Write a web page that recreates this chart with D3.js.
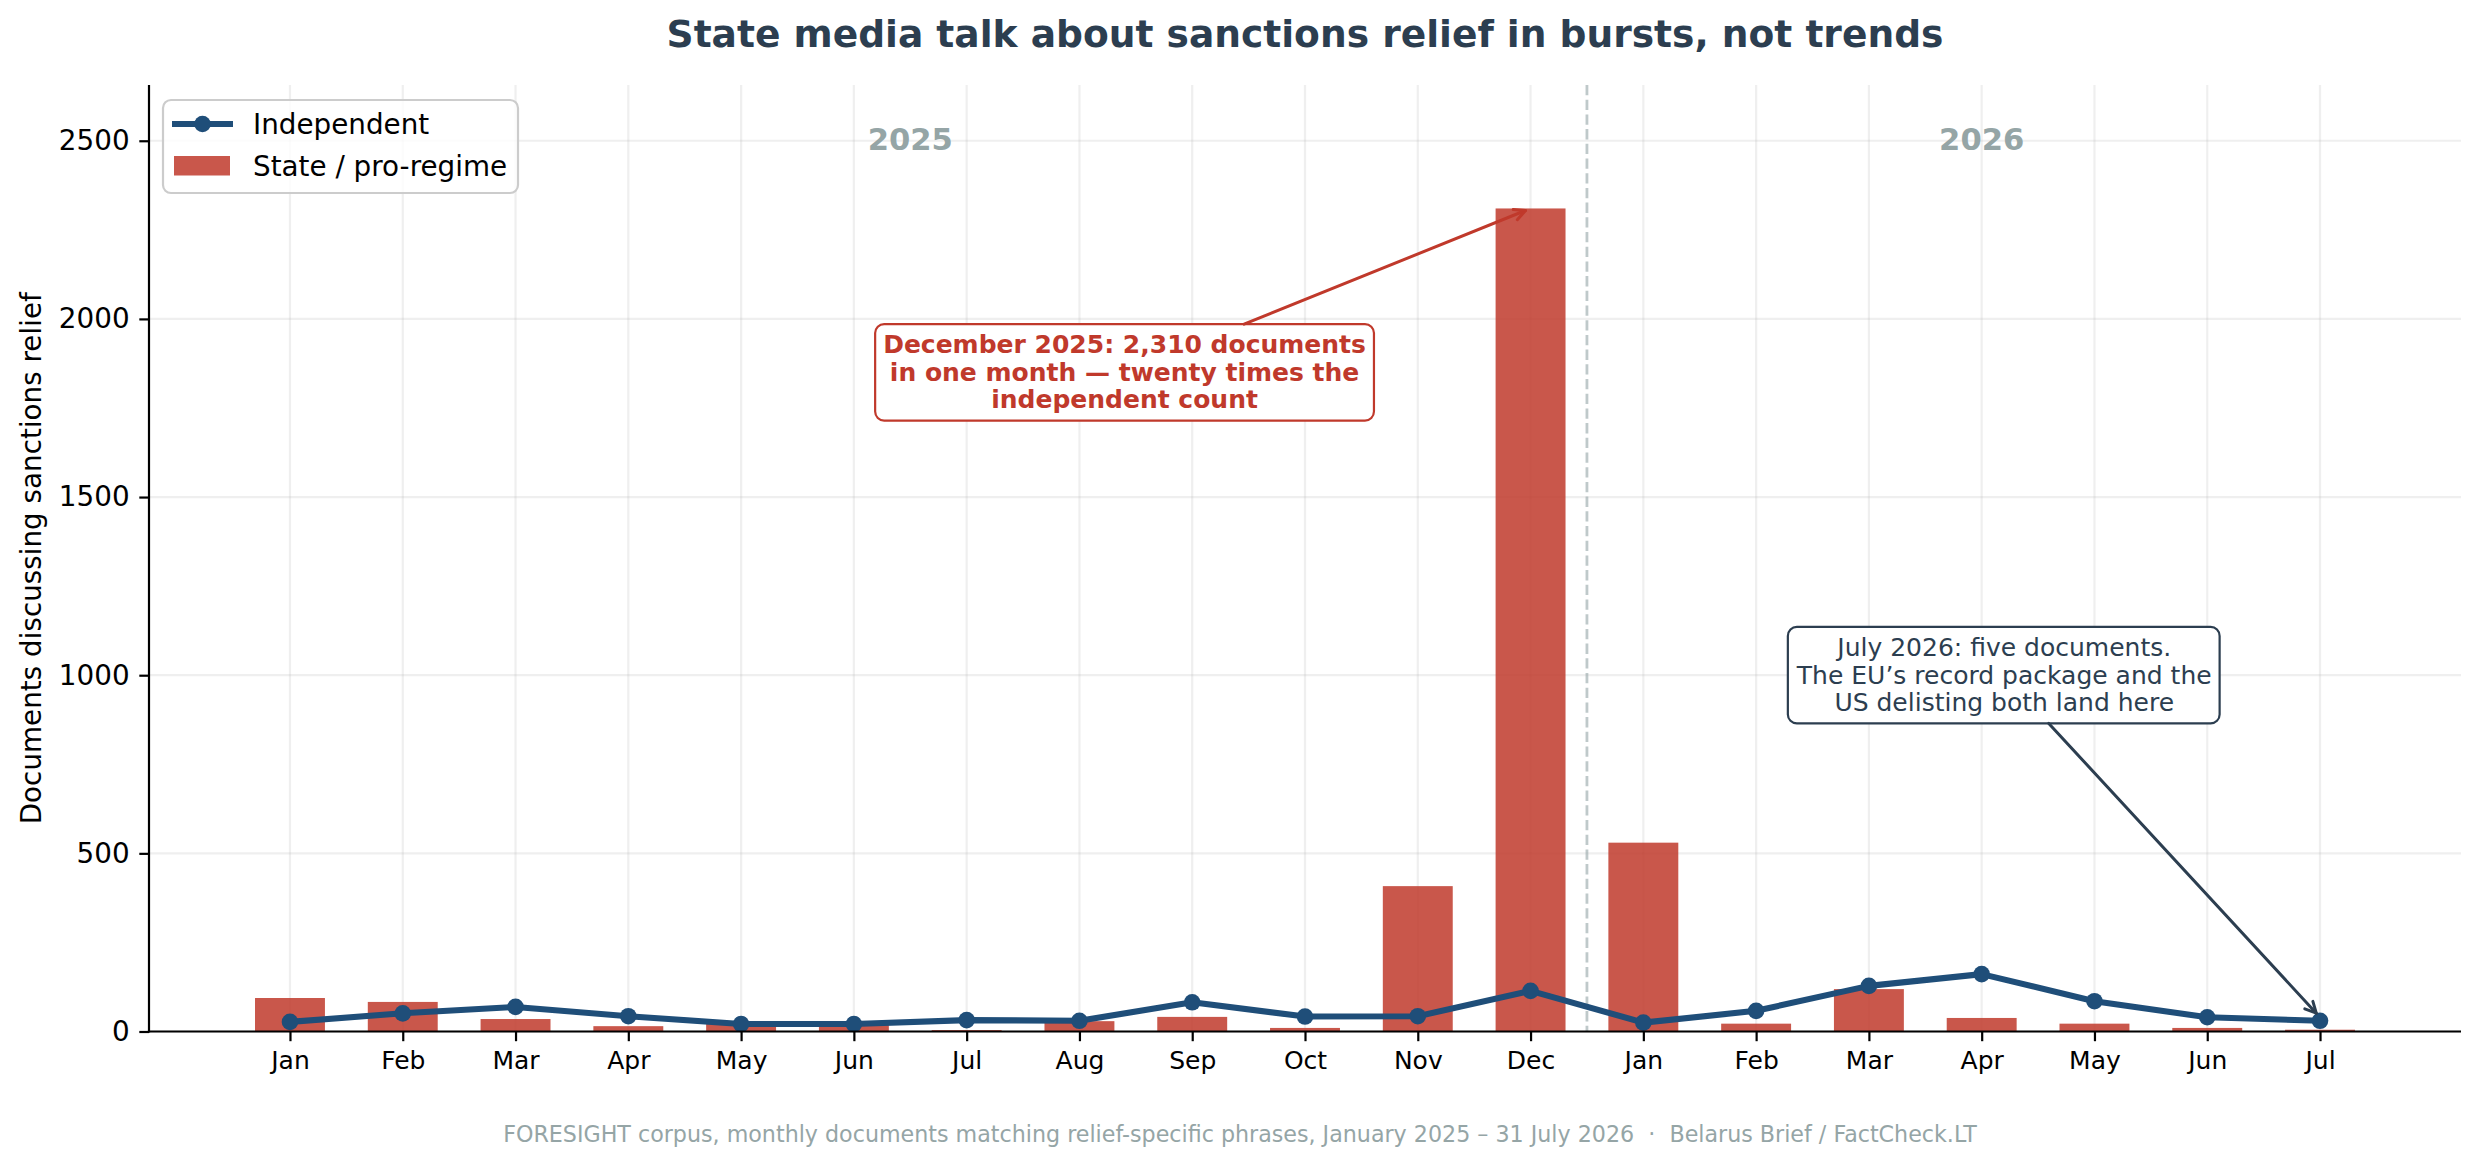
<!DOCTYPE html>
<html>
<head>
<meta charset="utf-8">
<script src="https://cdn.jsdelivr.net/npm/d3@7"></script>
<style>
  html, body { margin: 0; padding: 0; background: #ffffff; }
  svg { display: block; font-family: "DejaVu Sans", sans-serif; }
</style>
</head>
<body>
<svg id="chart" width="2480" height="1165"></svg>
<script>
// ---- data ----
const months = ["Jan","Feb","Mar","Apr","May","Jun","Jul","Aug","Sep","Oct","Nov","Dec",
                "Jan","Feb","Mar","Apr","May","Jun","Jul"];
const stateValues = [94, 83, 35, 15, 29, 20, 4, 29, 41, 10, 408, 2310, 530, 22, 119, 38, 22, 10, 5];
const independentValues = [27, 51, 69, 43, 21, 21, 32, 30, 82, 42, 43, 114, 25, 58, 128, 161, 85, 40, 30];
const yTicks = [0, 500, 1000, 1500, 2000, 2500];
const yearLabels = [{ text: "2025", pos: 5.5 }, { text: "2026", pos: 15 }];
const seriesNames = ["Independent", "State / pro-regime"];
const titleText = "State media talk about sanctions relief in bursts, not trends";
const yLabelText = "Documents discussing sanctions relief";
const footerText = "FORESIGHT corpus, monthly documents matching relief-specific phrases, January 2025 \u2013 31 July 2026  \u00b7  Belarus Brief / FactCheck.LT";
const annotations = [
  { lines: ["December 2025: 2,310 documents", "in one month \u2014 twenty times the", "independent count"],
    textX: 7.4, textY: 1850, targetX: 11, targetY: 2310, color: "#c0392b", weight: "bold" },
  { lines: ["July 2026: five documents.", "The EU\u2019s record package and the", "US delisting both land here"],
    textX: 15.2, textY: 1000, targetX: 18, targetY: 40, color: "#2c3e50", weight: "normal" }
];

// ---- layout ----
const W = 2480, H = 1165;
const L = 149, R = 2461, T = 85, B = 1031.5;
const barColor = "#c0392b", lineColor = "#1f4e79";
const yTickFont = 27.8, xTickFont = 25;

const svg = d3.select("#chart");
const x = d3.scaleLinear().domain([-1.25, 19.25]).range([L, R]);
const y = d3.scaleLinear().domain([0, 2310 * 1.15]).range([B, T]);
const idx = d3.range(months.length);

// grid
const grid = svg.append("g");
grid.selectAll("line.vg").data(idx).join("line")
  .attr("x1", d => x(d)).attr("x2", d => x(d)).attr("y1", T).attr("y2", B)
  .attr("stroke", "#b0b0b0").attr("stroke-opacity", 0.2).attr("stroke-width", 2.2);
grid.selectAll("line.hg").data(yTicks).join("line")
  .attr("x1", L).attr("x2", R).attr("y1", d => y(d)).attr("y2", d => y(d))
  .attr("stroke", "#b0b0b0").attr("stroke-opacity", 0.2).attr("stroke-width", 2.2);

// bars
const bw = 0.62;
svg.append("g").selectAll("rect").data(stateValues).join("rect")
  .attr("x", (d, i) => x(i - bw / 2))
  .attr("width", x(bw) - x(0))
  .attr("y", d => y(d))
  .attr("height", d => y(0) - y(d))
  .attr("fill", barColor).attr("fill-opacity", 0.85);

// dashed year separator
svg.append("line")
  .attr("x1", x(11.5)).attr("x2", x(11.5)).attr("y1", T).attr("y2", B)
  .attr("stroke", "#95a5a6").attr("stroke-opacity", 0.6).attr("stroke-width", 2.8)
  .attr("stroke-dasharray", "10.3,4.4");

// line series
const lineGen = d3.line().x((d, i) => x(i)).y(d => y(d));
svg.append("path").datum(independentValues)
  .attr("d", lineGen).attr("fill", "none")
  .attr("stroke", lineColor).attr("stroke-width", 6.1)
  .attr("stroke-linejoin", "round").attr("stroke-linecap", "butt");
svg.append("g").selectAll("circle").data(independentValues).join("circle")
  .attr("cx", (d, i) => x(i)).attr("cy", d => y(d)).attr("r", 8.3)
  .attr("fill", lineColor);

// year labels
svg.append("g").selectAll("text").data(yearLabels).join("text")
  .attr("x", d => x(d.pos)).attr("y", y(2500) - 1.5)
  .attr("text-anchor", "middle").attr("dominant-baseline", "central")
  .attr("font-size", 30.6).attr("font-weight", "bold").attr("fill", "#95a5a6")
  .text(d => d.text);

// axes (spines)
const axisG = svg.append("g");
axisG.append("line").attr("x1", L).attr("x2", L).attr("y1", T).attr("y2", B + 1.1)
  .attr("stroke", "#000").attr("stroke-width", 2.2);
axisG.append("line").attr("x1", L - 1.1).attr("x2", R).attr("y1", B).attr("y2", B)
  .attr("stroke", "#000").attr("stroke-width", 2.2);

// y ticks
const yAxis = d3.axisLeft(y).tickValues(yTicks).tickSize(9.7).tickPadding(9.7).tickFormat(d3.format("d"));
const yg = svg.append("g").attr("transform", `translate(${L},0)`).call(yAxis);
yg.select(".domain").remove();
yg.selectAll(".tick line").attr("stroke", "#000").attr("stroke-width", 2.2);
yg.selectAll(".tick text").attr("font-size", yTickFont).attr("font-family", "DejaVu Sans").attr("fill", "#000");

// x ticks
const xAxis = d3.axisBottom(x).tickValues(idx).tickSize(9.7).tickPadding(9.7).tickFormat(i => months[i]);
const xg = svg.append("g").attr("transform", `translate(0,${B})`).call(xAxis);
xg.select(".domain").remove();
xg.selectAll(".tick line").attr("stroke", "#000").attr("stroke-width", 2.2);
xg.selectAll(".tick text").attr("font-size", xTickFont).attr("font-family", "DejaVu Sans").attr("fill", "#000");

// y label
svg.append("text")
  .attr("transform", `translate(31,${(T + B) / 2}) rotate(-90)`)
  .attr("text-anchor", "middle").attr("dominant-baseline", "central")
  .attr("font-size", yTickFont).attr("fill", "#000")
  .text(yLabelText);

// title
svg.append("text")
  .attr("x", (L + R) / 2).attr("y", 47)
  .attr("text-anchor", "middle")
  .attr("font-size", 37.6).attr("font-weight", "bold").attr("fill", "#2c3e50")
  .text(titleText);

// footer
svg.append("text")
  .attr("x", W / 2).attr("y", 1142)
  .attr("text-anchor", "middle")
  .attr("xml:space", "preserve").style("white-space", "pre")
  .attr("font-size", 22.2).attr("fill", "#95a5a6")
  .text(footerText);

// legend
const lg = svg.append("g");
lg.append("rect").attr("x", 163).attr("y", 100).attr("width", 355).attr("height", 93)
  .attr("rx", 8).attr("fill", "#ffffff").attr("fill-opacity", 0.8)
  .attr("stroke", "#cccccc").attr("stroke-width", 2.2);
lg.append("line").attr("x1", 172).attr("x2", 233).attr("y1", 124).attr("y2", 124)
  .attr("stroke", lineColor).attr("stroke-width", 6.1);
lg.append("circle").attr("cx", 202.5).attr("cy", 124).attr("r", 8.3).attr("fill", lineColor);
lg.append("rect").attr("x", 174).attr("y", 156).attr("width", 56).attr("height", 19.5)
  .attr("fill", barColor).attr("fill-opacity", 0.85);
lg.selectAll("text").data(seriesNames).join("text")
  .attr("x", 253).attr("y", (d, i) => i === 0 ? 134 : 175.5)
  .attr("font-size", yTickFont).attr("fill", "#000")
  .text(d => d);

// annotations
const annFont = 25;
const lineH = 27.5;
annotations.forEach(a => {
  const cx = x(a.textX), cy = y(a.textY);
  const g = svg.append("g");
  const boxRect = g.append("rect");
  const tg = g.append("g");
  const n = a.lines.length;
  a.lines.forEach((ln, k) => {
    tg.append("text")
      .attr("x", cx).attr("y", cy + (k - (n - 1) / 2) * lineH)
      .attr("text-anchor", "middle").attr("dominant-baseline", "central")
      .attr("font-size", annFont).attr("font-weight", a.weight).attr("fill", a.color)
      .text(ln);
  });
  const bb = tg.node().getBBox();
  const padX = 8, halfH = (n * lineH) / 2 + 7;
  const bx0 = bb.x - padX, bx1 = bb.x + bb.width + padX;
  const by0 = cy - halfH, by1 = cy + halfH;
  boxRect.attr("x", bx0).attr("y", by0).attr("width", bx1 - bx0).attr("height", by1 - by0)
    .attr("rx", 9).attr("fill", "#ffffff").attr("stroke", a.color).attr("stroke-width", 2.2);

  // arrow from box center toward target, clipped at box edge
  const tx = x(a.targetX), ty = y(a.targetY);
  const dx = tx - cx, dy = ty - cy;
  let t = 1;
  if (dx !== 0) t = Math.min(t, ((dx > 0 ? bx1 : bx0) - cx) / dx);
  if (dy !== 0) t = Math.min(t, ((dy > 0 ? by1 : by0) - cy) / dy);
  const sx = cx + dx * t, sy = cy + dy * t;
  const len = Math.hypot(dx, dy);
  const ux = dx / len, uy = dy / len;
  const ex = tx - ux * 5.5, ey = ty - uy * 5.5;
  const ag = svg.append("g").attr("stroke", a.color).attr("stroke-width", 3).attr("fill", "none")
    .attr("stroke-linecap", "round").attr("stroke-linejoin", "round");
  ag.append("line").attr("x1", sx).attr("y1", sy).attr("x2", ex).attr("y2", ey);
  const hl = 11, hw = 5.5;
  const px = -uy, py = ux;
  ag.append("path").attr("d",
    `M${ex - ux * hl + px * hw},${ey - uy * hl + py * hw} L${ex},${ey} L${ex - ux * hl - px * hw},${ey - uy * hl - py * hw}`);
});
</script>
</body>
</html>
